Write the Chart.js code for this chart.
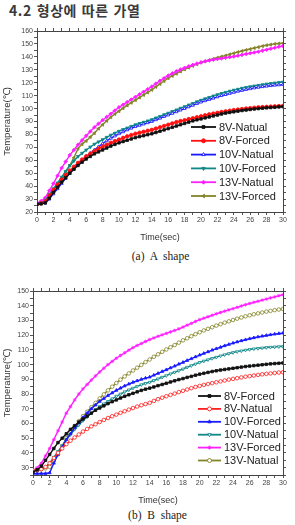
<!DOCTYPE html>
<html>
<head>
<meta charset="utf-8">
<script src="https://cdn.jsdelivr.net/npm/chart.js@4/dist/chart.umd.min.js"></script>
<style>
  body { margin: 0; background: #fff; }
  #page { position: relative; width: 295px; height: 525px; overflow: hidden; background: #fff; }
  #title { position: absolute; left: 9px; top: 0px; font: bold 14px "Noto Sans CJK KR", sans-serif; letter-spacing: 0.6px; word-spacing: 1px; color: #3a3a3a; white-space: nowrap; }
  canvas { position: absolute; left: 0; }
  .cap { position: absolute; width: 295px; text-align: center; font: 11.5px "Liberation Serif", serif; color: #222; white-space: pre; }
</style>
</head>
<body>
<div id="page">
  <div id="title">4.2 형상에 따른 가열</div>
  <canvas id="chartA" width="295" height="225" style="top:20px"></canvas>
  <div class="cap" style="top:250px; left:13px">(a)  A  shape</div>
  <canvas id="chartB" width="295" height="238" style="top:270px"></canvas>
  <div class="cap" style="top:509px; left:10px">(b)  B  shape</div>
</div>
<script>
// time axis (sec), one reading every 0.5 s
const times = [0,0.5,1,1.5,2,2.5,3,3.5,4,4.5,5,5.5,6,6.5,7,7.5,8,8.5,9,9.5,10,10.5,11,11.5,12,12.5,13,13.5,14,14.5,15,15.5,16,16.5,17,17.5,18,18.5,19,19.5,20,20.5,21,21.5,22,22.5,23,23.5,24,24.5,25,25.5,26,26.5,27,27.5,28,28.5,29,29.5,30];

// ---- (a) A shape ----
const labelsA = ['8V-Natual', '8V-Forced', '10V-Natual', '10V-Forced', '13V-Natual', '13V-Forced'];
const a8vNat = [26,26.3,27,30.5,35,39,43,46.5,50,53,56,58.5,61,63,65,66.5,68,69.5,71,72.3,73.5,74.5,75.5,76.5,77.5,78.3,79,79.8,80.5,81.5,82.5,83.5,84.5,85.5,86.5,87.5,88.5,89.5,90.5,91.3,92,92.8,93.5,94.3,95,95.8,96.5,97,97.5,98,98.5,98.9,99.3,99.7,100,100.3,100.6,100.8,101,101.3,101.5];
const a8vFor = [26,26.8,28,32.5,37,41,45,48.5,52,55,58,60.5,63,65,67,69,70.5,72,73.5,74.8,76,77.3,78.5,79.5,80.5,81.3,82,82.8,83.5,84.5,85.5,86.5,87.5,88.5,89.5,90.3,91,91.8,92.5,93.3,94,94.8,95.5,96.1,96.7,97.3,97.8,98.3,98.8,99.2,99.6,100,100.3,100.6,100.9,101.1,101.3,101.5,101.7,101.9,102];
const a10vNat = [27,27,27,30,34,38,42,46,50,53.5,57,60,63,65.5,68,70.5,73,75,77,78.8,80.5,82,83.5,84.8,86,87,88,89,90,91.3,92.5,93.8,95,96.3,97.5,98.8,100,101.3,102.5,103.8,105,106,107,108,109,110,110.8,111.7,112.5,113.3,114,114.7,115.3,115.9,116.4,116.9,117.3,117.7,118,118.3,118.5];
const a10vFor = [26,27,29,33.5,38,42.5,47,51.5,56,59.5,63,65.5,68,70.3,72.5,74.3,76,77.8,79.5,81,82.5,83.8,85,86.3,87.5,88.5,89.5,90.5,91.5,92.8,94,95.3,96.5,97.8,99,100.3,101.5,102.8,104,105.3,106.5,107.6,108.7,109.8,110.8,111.7,112.6,113.5,114.3,115,115.8,116.4,117,117.5,118,118.5,119,119.4,119.8,120.2,120.5];
const a13vNat = [27,28.5,31,36.5,42,48,54,59,64,68,72,75.5,79,82.3,85.5,88.3,91,93.5,96,98.5,101,103,105,107,109,111,113,115,117,119.3,121.5,123.5,125.5,127.2,128.8,130.2,131.5,132.7,133.8,134.8,135.7,136.5,137.2,137.8,138.3,138.8,139.3,139.8,140.3,140.9,141.5,142.2,142.8,143.4,144,144.8,145.5,146.3,147,147.8,148.5];
const a13vFor = [26,26.8,28,32.5,37,41.5,46,51,56,62,69,72.5,75,78,81,84.5,87.5,90.5,93.3,95.8,98,100.3,102.5,104.5,106.5,108.5,110.5,112.5,114.5,116.8,119,121.3,123.5,125.3,127,128.7,130.3,131.7,133,134.3,135.6,136.6,137.5,138.4,139.3,140.2,141,141.9,142.8,143.7,144.5,145.3,146,146.8,147.5,148.3,149,149.5,150,150.3,150.5];

// ---- (b) B shape ----
const labelsB = ['8V-Forced', '8V-Natual', '10V-Forced', '10V-Natual', '13V-Forced', '13V-Natual'];
const b8vFor = [27,28.5,31,35,39,43,47,50,53,56,58.5,61,63,65,67,69,70.5,72,73.5,74.8,76,77.3,78.5,79.5,80.5,81.5,82.5,83.3,84,84.8,85.7,86.5,87.3,88.2,89,89.8,90.5,91.3,92,92.8,93.5,94.1,94.7,95.3,95.8,96.3,96.7,97.1,97.5,97.9,98.3,98.7,99,99.3,99.6,99.9,100.2,100.5,100.7,100.9,101.1];
const b8vNat = [28,28.3,29,30.5,33,36.5,40,43,46,48.3,50.5,52.5,54.5,56.3,58,59.5,61,62.4,63.7,64.9,66,67.2,68.3,69.4,70.5,71.5,72.4,73.2,74,75.3,76.5,77.5,78.5,79.4,80.3,81.3,82.2,83.1,84,84.8,85.5,86.2,86.8,87.4,88,88.6,89.2,89.8,90.3,90.8,91.3,91.8,92.2,92.6,93,93.4,93.7,94,94.3,94.6,94.8];
const b10vFor = [26,26,26,26,26.5,33,39,44,49,53,57,60.5,64,67,70,72.5,75,77,79,80.8,82.5,84,85.5,86.8,88,89,90,90.8,91.5,92.8,94,95.3,96.5,97.8,99,100.3,101.5,102.8,104,105.3,106.5,107.6,108.7,109.8,110.8,111.8,112.8,113.7,114.6,115.4,116.2,116.9,117.6,118.2,118.8,119.3,119.8,120.3,120.7,121.1,121.4];
const b10vNat = [28,28.3,29,30.5,33,37,41,45,49,52.5,56,59,62,64.5,67,69.3,71.5,73.3,75,76.8,78.5,80,81.5,82.8,84,85.2,86.3,87.2,88,89.2,90.3,91.4,92.5,93.7,94.8,95.9,97,98.2,99.3,100.4,101.5,102.4,103.3,104.2,105,105.9,106.7,107.5,108.2,108.8,109.3,109.8,110.3,110.7,111,111.3,111.6,111.8,112,112.2,112.3];
const b13vFor = [28,30,33,38,43,49,55,61,67,71.5,76,80,83.5,86.5,89.5,92.3,95,97.5,100,102.2,104.3,106.2,108,109.8,111.5,113,114.3,115.7,117,118.1,119.2,120.2,121.2,122.2,123.2,124.3,125.5,126.8,128,129.3,130.5,131.5,132.5,133.5,134.5,135.4,136.3,137.2,138,138.9,139.8,140.7,141.5,142.3,143,143.8,144.5,145.3,146,146.8,147.5];
const b13vNat = [28,28.5,29,29.5,30.5,34.5,39,44.5,50,54,58,61.5,65,68,71,74,77,79.8,82.5,85,87.5,89.8,92,94,96,97.9,99.8,101.7,103.5,105.3,107,108.7,110.3,111.8,113.3,114.9,116.5,117.9,119.3,120.7,122,123.2,124.3,125.4,126.5,127.5,128.5,129.4,130.3,131.2,132,132.8,133.5,134.2,134.8,135.4,136,136.5,137,137.4,137.8];

const FONT = 'Liberation Sans, Arial, sans-serif';

// look of each series (colour, marker)
const stylesA = [
  { color: '#111111', point: 'rect', fill: '#111111', rot: 0 },
  { color: '#ff1010', point: 'circle', fill: '#ff1010', rot: 0 },
  { color: '#1a1aff', point: 'triangle', fill: '#ffffff', rot: 0 },
  { color: '#108888', point: 'triangle', fill: '#108888', rot: 180 },
  { color: '#ff20ff', point: 'rectRot', fill: '#ff20ff', rot: 0 },
  { color: '#84842a', point: 'triangle', fill: '#84842a', rot: 270 },
];
const stylesB = [
  { color: '#111111', point: 'rect', fill: '#111111', rot: 0 },
  { color: '#ff2020', point: 'circle', fill: '#ffffff', rot: 0 },
  { color: '#1a1aff', point: 'triangle', fill: '#1a1aff', rot: 0 },
  { color: '#108888', point: 'triangle', fill: '#ffffff', rot: 180 },
  { color: '#ff20ff', point: 'star', fill: '#ff20ff', rot: 0 },
  { color: '#84842a', point: 'circle', fill: '#ffffff', rot: 0 },
];

function toPoints(ys) {
  const pts = [];
  for (let i = 0; i < times.length; i++) {
    pts.push({ x: times[i], y: ys[i] });
  }
  return pts;
}

// legend drawn inside the plot, lower right
const insideLegend = {
  id: 'insideLegend',
  afterDraw(chart, args, opts) {
    const ctx = chart.ctx;
    ctx.save();
    ctx.font = '11px ' + FONT;
    ctx.textBaseline = 'middle';
    chart.data.datasets.forEach((ds, i) => {
      const y = opts.top + i * opts.row;
      const x = opts.left;
      ctx.strokeStyle = ds.borderColor;
      ctx.lineWidth = 1.8;
      ctx.beginPath();
      ctx.moveTo(x, y);
      ctx.lineTo(x + opts.len, y);
      ctx.stroke();
      ctx.fillStyle = ds.pointBackgroundColor;
      ctx.lineWidth = 0.9;
      if (Chart.helpers && Chart.helpers.drawPoint) {
        Chart.helpers.drawPoint(ctx, { pointStyle: ds.pointStyle, radius: 2, borderWidth: 0.9, rotation: ds.pointRotation }, x + opts.len / 2, y);
      }
      ctx.fillStyle = '#222';
      ctx.fillText(ds.label, x + opts.len + 3, y + 0.5);
    });
    ctx.restore();
  }
};

function makeChart(id, labels, series, styles, ymin, ymax, yWidth, padTop, legendPos) {
  const datasets = [];
  for (let i = 0; i < series.length; i++) {
    datasets.push({
      label: labels[i],
      data: toPoints(series[i]),
      borderColor: styles[i].color,
      backgroundColor: styles[i].fill,
      pointBackgroundColor: styles[i].fill,
      pointBorderColor: styles[i].color,
      pointStyle: styles[i].point,
      pointRotation: styles[i].rot,
      pointRadius: 1.8,
      pointBorderWidth: 0.8,
      borderWidth: 1.4,
      tension: 0,
    });
  }

  const tickFont = { family: FONT, size: 7 };
  const grid = { display: true, drawOnChartArea: false, drawTicks: true, tickLength: 3, color: '#555', tickColor: '#555' };
  const border = { display: true, color: '#444', width: 1 };

  const options = {
    responsive: false,
    animation: false,
    events: [],
    layout: { padding: { left: 0, right: 12, top: padTop, bottom: 2 } },
    plugins: {
      legend: { display: false },
      tooltip: { enabled: false },
      insideLegend: legendPos,
    },
    scales: {
      x: {
        type: 'linear', position: 'bottom', min: 0, max: 30,
        ticks: { stepSize: 1, maxTicksLimit: 100, autoSkip: false, maxRotation: 0, padding: 1, font: tickFont, color: '#444',
                 callback: v => (v % 2 === 0 ? v : '') },
        grid: grid, border: border,
        title: { display: true, text: 'Time(sec)', font: { family: FONT, size: 9 }, color: '#333', padding: 0 },
        afterFit: s => { s.height = 31; },
      },
      x2: {
        type: 'linear', position: 'top', min: 0, max: 30,
        ticks: { stepSize: 1, maxTicksLimit: 100, autoSkip: false, display: false },
        grid: grid, border: border,
        afterFit: s => { s.height = 0; },
      },
      y: {
        type: 'linear', position: 'left', min: ymin, max: ymax,
        ticks: { stepSize: 5, maxTicksLimit: 100, autoSkip: false, padding: 1, font: tickFont, color: '#444',
                 callback: v => (v % 10 === 0 ? v : '') },
        grid: grid, border: border,
        title: { display: true, text: 'Temperature(\u2103)', font: { family: FONT, size: 9.5 }, color: '#333', padding: { top: 2, bottom: 0 } },
        afterFit: s => { s.width = yWidth; },
      },
      y2: {
        type: 'linear', position: 'right', min: ymin, max: ymax,
        ticks: { stepSize: 5, maxTicksLimit: 100, autoSkip: false, display: false },
        grid: grid, border: border,
        afterFit: s => { s.width = 0; },
      },
    },
  };

  const ctx = document.getElementById(id).getContext('2d');
  return new Chart(ctx, {
    type: 'line',
    data: { datasets: datasets },
    options: options,
    plugins: [insideLegend],
  });
}

makeChart('chartA', labelsA, [a8vNat, a8vFor, a10vNat, a10vFor, a13vNat, a13vFor], stylesA,
  20, 160, 37, 11, { left: 191, top: 107, row: 13.8, len: 25 });
makeChart('chartB', labelsB, [b8vFor, b8vNat, b10vFor, b10vNat, b13vFor, b13vNat], stylesB,
  25, 150, 33, 21, { left: 198, top: 126, row: 12.9, len: 23 });
</script>
</body>
</html>
